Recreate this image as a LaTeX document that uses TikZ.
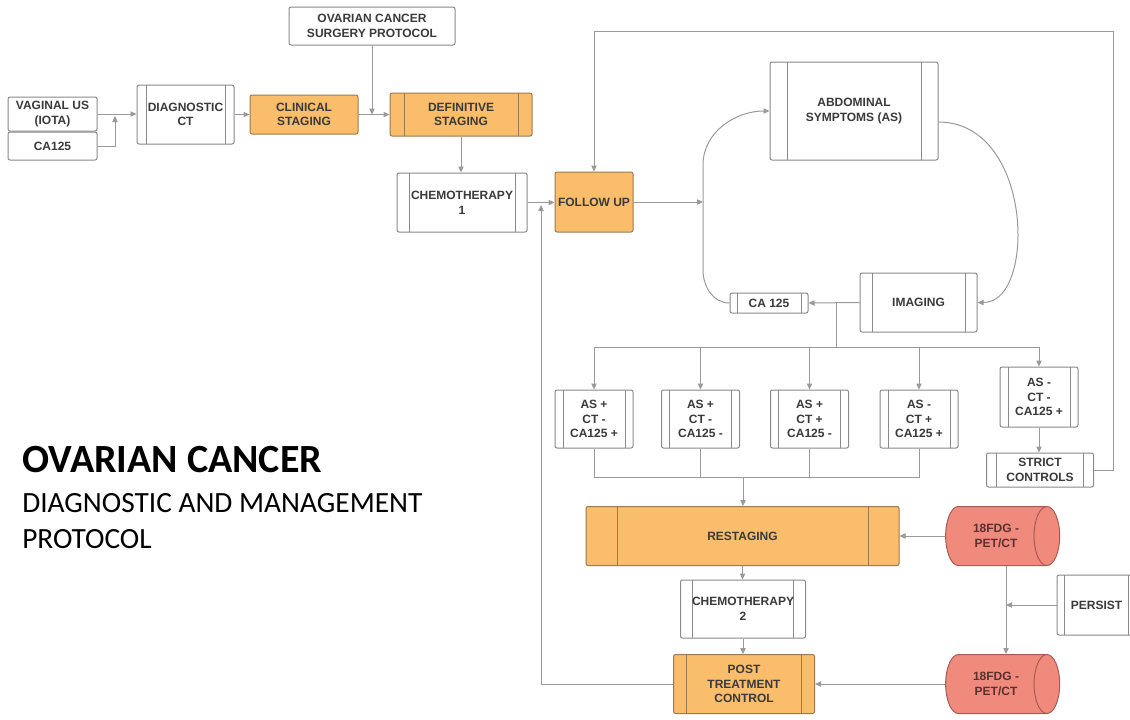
\documentclass[tikz,border=0pt]{standalone}
\usepackage{fontspec}
\setmainfont{Liberation Sans}
\newfontfamily\titlefont{Carlito}
\usetikzlibrary{shapes.geometric,arrows.meta}
\definecolor{orng}{HTML}{F9BD6B}
\definecolor{salmon}{HTML}{F08A7C}
\definecolor{bord}{HTML}{8A8A8A}
\definecolor{obord}{HTML}{9C7A4E}
\definecolor{rbord}{HTML}{A85A55}
\definecolor{lncol}{HTML}{9A9A9A}
\definecolor{txt}{HTML}{3A3A3A}
\definecolor{ctxt}{HTML}{5A3030}
\tikzset{
  box/.style={draw=bord, line width=0.75pt, rounded corners=1.5pt, fill=white, inner sep=0pt,
    align=center, text=txt, font=\fontsize{9}{11}\selectfont\bfseries},
  obox/.style={box, fill=orng, draw=obord},
  proc/.style 2 args={path picture={
    \draw[#2, line width=0.75pt]
      ([xshift=#1]path picture bounding box.north west) -- ([xshift=#1]path picture bounding box.south west)
      ([xshift=-#1]path picture bounding box.north east) -- ([xshift=-#1]path picture bounding box.south east);}},
  cyl/.style={cylinder, shape border rotate=0, aspect=1.1, draw=rbord, line width=0.75pt,
    cylinder uses custom fill, cylinder body fill=salmon, cylinder end fill=salmon,
    minimum width=44.25pt, minimum height=85.5pt, inner sep=0pt, align=center, text=ctxt,
    font=\fontsize{9}{11}\selectfont\bfseries},
  conn/.style={draw=lncol, line width=0.75pt},
  arr/.style={conn, -{Triangle[length=4.5pt,width=4pt]}},
}
\begin{document}
\begin{tikzpicture}[x=0.75pt,y=-0.75pt]
\useasboundingbox[fill=white] (0,0) rectangle (1130,719);

% title
\node[anchor=base west, inner sep=0pt, font=\titlefont\bfseries\fontsize{30}{34}\selectfont] (t1) at (22,472) {OVARIAN CANCER};
\node[anchor=base west, inner sep=0pt, font=\titlefont\fontsize{22}{26}\selectfont] (t2) at (22,512) {DIAGNOSTIC AND MANAGEMENT};
\node[anchor=base west, inner sep=0pt, font=\titlefont\fontsize{22}{26}\selectfont] (t3) at (22,548) {PROTOCOL};

% nodes
\node[box, minimum width=124.5pt, minimum height=28.5pt] (surg) at (372,26) {OVARIAN CANCER\\SURGERY PROTOCOL};
\node[box, minimum width=66.75pt, minimum height=25.5pt] (vag) at (52.5,114) {VAGINAL US\\(IOTA)};
\node[box, minimum width=66.75pt, minimum height=21pt] (ca) at (52.5,146) {CA125};
\node[box, proc={6.75pt}{bord}, minimum width=72.75pt, minimum height=44.25pt] (dct) at (185.5,114.5) {DIAGNOSTIC\\CT};
\node[obox, minimum width=81pt, minimum height=29.25pt] (clin) at (304,114.5) {CLINICAL\\STAGING};
\node[obox, proc={10.5pt}{obord}, minimum width=106.5pt, minimum height=32.25pt] (def) at (461,114.5) {DEFINITIVE\\STAGING};
\node[box, proc={9pt}{bord}, minimum width=97.5pt, minimum height=44.25pt] (chemo1) at (462,202.5) {CHEMOTHERAPY\\1};
\node[obox, minimum width=58.5pt, minimum height=45pt] (fu) at (594,202) {FOLLOW UP};
\node[box, proc={12.75pt}{bord}, minimum width=126pt, minimum height=73.5pt] (abd) at (854,111) {ABDOMINAL\\SYMPTOMS (AS)};
\node[box, proc={9pt}{bord}, minimum width=87.75pt, minimum height=44.25pt] (img) at (918.5,302.5) {IMAGING};
\node[box, proc={5.25pt}{bord}, minimum width=58.5pt, minimum height=15pt] (cab) at (769,303) {CA 125};
\node[box, proc={6pt}{bord}, minimum width=58.5pt, minimum height=43.5pt] (as1) at (594,419) {AS +\\CT -\\CA125 +};
\node[box, proc={6pt}{bord}, minimum width=58.5pt, minimum height=43.5pt] (as2) at (700.5,419) {AS +\\CT -\\CA125 -};
\node[box, proc={6pt}{bord}, minimum width=58.5pt, minimum height=43.5pt] (as3) at (809.5,419) {AS +\\CT +\\CA125 -};
\node[box, proc={6pt}{bord}, minimum width=58.5pt, minimum height=43.5pt] (as4) at (919,419) {AS -\\CT +\\CA125 +};
\node[box, proc={6pt}{bord}, minimum width=58.5pt, minimum height=45pt] (as5) at (1039,397) {AS -\\CT -\\CA125 +};
\node[box, proc={7.5pt}{bord}, minimum width=80.25pt, minimum height=25.5pt] (strict) at (1040,470) {STRICT\\CONTROLS};
\node[obox, proc={23.25pt}{obord}, minimum width=234.75pt, minimum height=44.25pt] (rest) at (742.5,536) {RESTAGING};
\node[cyl] (pet1) at (996,536) {18FDG -\\PET/CT};
\node[box, proc={9pt}{bord}, minimum width=93.75pt, minimum height=43.5pt] (chemo2) at (743,609) {CHEMOTHERAPY\\2};
\node[obox, proc={9.75pt}{obord}, minimum width=105.75pt, minimum height=44.25pt] (post) at (744,684) {POST\\TREATMENT\\CONTROL};
\node[cyl] (pet2) at (996,684) {18FDG -\\PET/CT};
\node[box, proc={5.5pt}{bord}, minimum width=59.25pt, minimum height=45pt] (persist) at (1096.5,605) {PERSIST};

% connectors
\coordinate (j1) at (115,116);
\coordinate (j2) at (372,114.5);
\coordinate (j3) at (541,205);
\coordinate (j4) at (703,202);
\coordinate (j5) at (836,303);
\coordinate (j6) at (836,347);
\coordinate (j7) at (743,477);
\coordinate (j8) at (1113,31);
\coordinate (j9) at (1006,605);

\draw[arr] (vag.east) -- (vag.east -| dct.west);
\draw[arr] (ca.east) -| (j1);
\draw[arr] (dct.east) -- (dct.east -| clin.west);
\draw[arr] (clin.east) -- (clin.east -| def.west);
\draw[arr] (surg.south) -- (j2);
\draw[arr] (def.south) -- (def.south |- chemo1.north);
\draw[arr] (chemo1.east) -- (chemo1.east -| fu.west);
\draw[arr] (post.west) -| (j3);
\draw[arr] (fu.east) -- (j4);
\draw[arr] (cab.west) to[out=180,in=-90] (703,270) -- (703,165) to[out=90,in=180] (abd.west);
\draw[arr] ([yshift=-8.25pt]abd.east) to[out=0,in=90] (1018,235) to[out=-90,in=0] (img.east);
\draw[arr] (img.west) -- (cab.east);
\draw[conn] (j5) -- (j6);
\draw[conn] (as1.north |- j6) -- (as5.north |- j6);
\foreach \n in {as1,as2,as3,as4,as5} \draw[arr] (\n.north |- j6) -- (\n.north);
\draw[conn] (as1.south) -- (as1.south |- j7) -- (as4.south |- j7) -- (as4.south);
\draw[conn] (as2.south) -- (as2.south |- j7);
\draw[conn] (as3.south) -- (as3.south |- j7);
\draw[arr] (j7) -- (j7 |- rest.north);
\draw[arr] (as5.south) -- (as5.south |- strict.north);
\draw[arr] (strict.east) -| (j8) -| (fu.north);
\draw[arr] (pet1.west) -- (pet1.west -| rest.east);
\draw[arr] (j9 |- pet1.south) -- (j9 |- pet2.north);
\draw[arr] (persist.west) -- (j9);
\draw[arr] (rest.south) -- (rest.south |- chemo2.north);
\draw[arr] (chemo2.south) -- (chemo2.south |- post.north);
\draw[arr] (pet2.west) -- (pet2.west -| post.east);
\end{tikzpicture}
\end{document}
